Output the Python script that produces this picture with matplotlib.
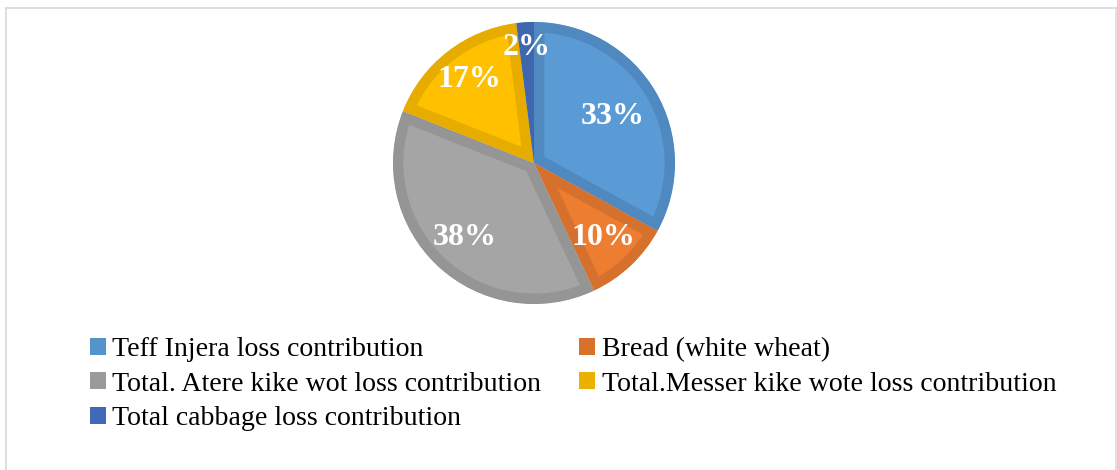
import numpy as np
import matplotlib
matplotlib.use("Agg")
import matplotlib.pyplot as plt
from matplotlib.patches import Patch
from matplotlib.lines import Line2D

labels = ["Teff Injera loss contribution", "Bread (white wheat)",
          "Total. Atere kike wot loss contribution",
          "Total.Messer kike wote loss contribution",
          "Total cabbage loss contribution"]
shares = [33, 10, 38, 17, 2]
fills = ["#5B9BD5", "#ED7D31", "#A5A5A5", "#FFC000", "#4472C4"]
edges = ["#4F89BF", "#D5712D", "#959595", "#E6AD00", "#3E67B0"]
legend_colors = ["#5693CB", "#D9702C", "#9A9A9A", "#EBB000", "#4169B8"]
label_dist = [0.65, 0.72, 0.72, 0.75, 0.82]

W, H = 1117, 470
fig = plt.figure(figsize=(W / 100, H / 100), dpi=100)

# pie axes: centre (534,163) px, radius 141 px
cx, cy, r = 534, 163, 141
ax = fig.add_axes([(cx - r) / W, 1 - (cy + r) / H, 2 * r / W, 2 * r / H])
wedges, _ = ax.pie(shares, colors=fills, startangle=90, counterclock=False,
                   wedgeprops=dict(linewidth=15))
ax.set_xlim(-1, 1)
ax.set_ylim(-1, 1)
ax.set_aspect("equal")
ax.axis("off")
# keep only the inner half of each wedge's outline
for w, ec in zip(wedges, edges):
    w.set_edgecolor(ec)
    w.set_clip_on(True)
    w.set_clip_path(w.get_path(), w.get_transform())

# percent labels
for w, v, d in zip(wedges, shares, label_dist):
    mid = np.deg2rad((w.theta1 + w.theta2) / 2)
    ax.text(d * np.cos(mid), d * np.sin(mid), f"{v}%", ha="center", va="center",
            color="white", fontsize=23, fontweight="bold", family="Liberation Serif")

# legend, filled row-wise like the original
order = [0, 2, 4, 1, 3]
handles = [Patch(facecolor=legend_colors[i], edgecolor="none") for i in order]
fig.legend(handles, [labels[i] for i in order], ncol=2, loc="upper left",
           bbox_to_anchor=(90 / W, 1 - 337 / H), frameon=False,
           prop=dict(family="Liberation Serif", size=20.1),
           handlelength=0.58, handleheight=0.55, handletextpad=0.22,
           columnspacing=1.36, labelspacing=0.34, borderpad=0, borderaxespad=0)

# light frame around the chart area
bc = "#D9D9D9"
fig.add_artist(Line2D([5.5 / W, 5.5 / W], [0, 1 - 8 / H], color=bc, lw=1.2))
fig.add_artist(Line2D([5.5 / W, 1115.5 / W], [1 - 8 / H, 1 - 8 / H], color=bc, lw=1.2))
fig.add_artist(Line2D([1115.5 / W, 1115.5 / W], [0, 1 - 8 / H], color=bc, lw=1.2))

fig.savefig("out.png", dpi=100)
